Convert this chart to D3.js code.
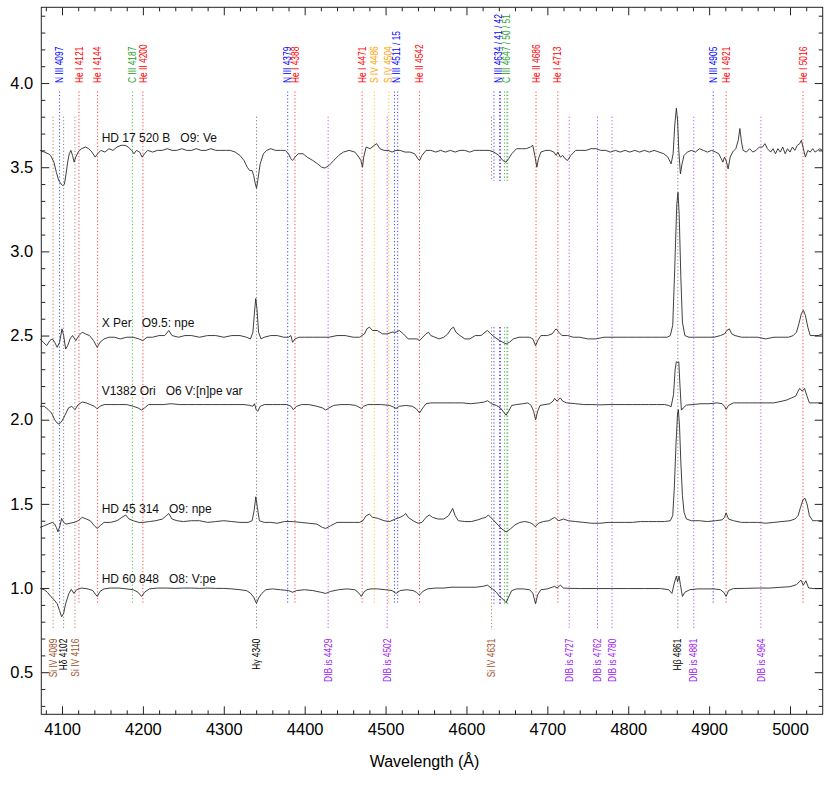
<!DOCTYPE html>
<html>
<head>
<meta charset="utf-8">
<script src="https://cdn.jsdelivr.net/npm/d3@7"></script>
<style>
body { margin: 0; background: #fff; }
svg { font-family: "Liberation Sans", Arial, Helvetica, sans-serif; }
</style>
</head>
<body>
<svg width="830" height="803"></svg>
<script>
// ---- data ----
// spectra: [wavelength (A), normalised flux + offset]
var hd17520 = [
  [4073,3.60],[4078,3.59],[4083,3.58],[4086,3.57],[4090,3.53],[4093,3.47],[4096,3.42],[4099,3.40],[4101,3.39],
  [4103,3.40],[4105,3.46],[4107,3.53],[4109,3.58],[4111,3.60],[4113,3.57],[4115,3.53],[4117,3.56],[4120,3.59],
  [4124,3.61],[4129,3.62],[4133,3.61],[4137,3.59],[4141,3.56],[4144,3.58],[4148,3.60],[4153,3.59],[4158,3.61],
  [4163,3.60],[4168,3.62],[4173,3.63],[4178,3.63],[4182,3.62],[4186,3.60],[4189,3.58],[4192,3.60],[4196,3.59],
  [4199,3.56],[4202,3.58],[4206,3.60],[4212,3.59],[4218,3.60],[4224,3.60],[4230,3.61],[4236,3.60],[4242,3.60],
  [4248,3.61],[4254,3.60],[4260,3.60],[4266,3.61],[4272,3.60],[4278,3.60],[4284,3.61],[4290,3.60],[4296,3.60],
  [4302,3.60],[4308,3.60],[4314,3.59],[4320,3.57],[4325,3.54],[4329,3.50],[4332,3.48],[4335,3.48],[4337,3.45],
  [4339,3.40],[4340.5,3.375],[4342,3.42],[4345,3.52],[4349,3.58],[4353,3.60],[4358,3.61],[4364,3.60],[4370,3.60],
  [4376,3.60],[4380,3.58],[4383,3.55],[4385,3.54],[4388,3.56],[4392,3.58],[4398,3.58],[4403,3.56],[4410,3.54],
  [4416,3.52],[4421,3.50],[4425,3.495],[4430,3.51],[4436,3.54],[4442,3.57],[4448,3.59],[4455,3.60],[4462,3.59],
  [4467,3.56],[4469.5,3.54],[4471.5,3.50],[4473,3.56],[4476,3.62],[4481,3.61],[4486,3.63],[4489,3.64],[4493,3.61],
  [4498,3.60],[4503,3.60],[4508,3.59],[4513,3.60],[4518,3.60],[4524,3.59],[4530,3.59],[4536,3.58],[4540,3.55],
  [4542,3.54],[4545,3.57],[4550,3.60],[4556,3.60],[4562,3.59],[4568,3.60],[4574,3.59],[4580,3.60],[4586,3.59],
  [4592,3.60],[4598,3.60],[4604,3.59],[4610,3.60],[4616,3.60],[4622,3.60],[4628,3.60],[4634,3.59],[4640,3.57],
  [4645,3.54],[4649,3.53],[4652,3.55],[4656,3.58],[4662,3.61],[4668,3.61],[4674,3.61],[4679,3.62],[4682,3.63],
  [4684.5,3.57],[4687,3.50],[4689,3.55],[4692,3.59],[4698,3.60],[4703,3.60],[4708,3.59],[4711,3.57],[4713,3.59],
  [4716,3.56],[4719,3.57],[4722,3.55],[4725,3.54],[4729,3.57],[4735,3.60],[4741,3.60],[4748,3.60],[4754,3.61],
  [4760,3.61],[4766,3.60],[4772,3.60],[4778,3.59],[4784,3.60],[4790,3.59],[4796,3.60],[4802,3.59],[4808,3.60],
  [4814,3.59],[4820,3.60],[4826,3.59],[4832,3.60],[4838,3.59],[4844,3.58],[4849,3.56],[4853,3.52],[4855.5,3.58],
  [4857.5,3.75],[4859.5,3.85],[4861,3.78],[4862.5,3.60],[4864.5,3.46],[4866.5,3.52],[4869,3.57],[4873,3.59],
  [4878,3.60],[4883,3.59],[4888,3.61],[4893,3.60],[4898,3.59],[4903,3.60],[4908,3.59],[4912,3.58],[4915,3.55],
  [4917,3.53],[4919,3.56],[4921,3.54],[4923.5,3.49],[4926,3.56],[4929,3.59],[4933,3.61],[4936,3.66],[4938,3.73],
  [4940,3.65],[4942,3.60],[4946,3.59],[4950,3.61],[4954,3.59],[4958,3.60],[4962,3.62],[4966,3.62],[4969,3.64],
  [4972,3.61],[4976,3.59],[4979,3.61],[4982,3.58],[4985,3.61],[4988,3.59],[4991,3.62],[4994,3.58],[4997,3.61],
  [5000,3.59],[5003,3.62],[5006,3.60],[5009,3.63],[5012,3.64],[5014,3.66],[5016,3.62],[5019,3.56],[5022,3.60],
  [5025,3.59],[5028,3.61],[5031,3.59],[5034,3.60],[5037,3.61],[5040,3.60]
];

var xPer = [
  [4073,2.48],[4077,2.46],[4081,2.44],[4085,2.47],[4088,2.48],[4091,2.46],[4094,2.43],[4097,2.46],[4100,2.54],
  [4102,2.50],[4104.5,2.42],[4107,2.44],[4110,2.48],[4113,2.50],[4117,2.47],[4121,2.50],[4125,2.52],[4129,2.51],
  [4134,2.50],[4139,2.47],[4143.5,2.43],[4147,2.46],[4152,2.48],[4158,2.49],[4165,2.49],[4172,2.48],[4180,2.49],
  [4188,2.49],[4195,2.48],[4200,2.47],[4205,2.49],[4212,2.49],[4220,2.50],[4227,2.50],[4232,2.53],[4236,2.50],
  [4244,2.49],[4252,2.50],[4260,2.50],[4270,2.49],[4280,2.50],[4290,2.50],[4300,2.49],[4310,2.50],[4320,2.50],
  [4328,2.49],[4333,2.48],[4336,2.52],[4338,2.64],[4339.5,2.72],[4341,2.66],[4343,2.52],[4346,2.48],[4350,2.49],
  [4358,2.50],[4366,2.50],[4374,2.49],[4380,2.49],[4383,2.50],[4385,2.46],[4388,2.48],[4393,2.49],[4400,2.49],
  [4410,2.49],[4420,2.49],[4430,2.49],[4440,2.50],[4450,2.50],[4460,2.49],[4468,2.49],[4474,2.51],[4477,2.54],
  [4480,2.55],[4484,2.53],[4490,2.53],[4496,2.51],[4502,2.51],[4508,2.52],[4513,2.52],[4517,2.53],[4522,2.51],
  [4528,2.48],[4534,2.48],[4539,2.48],[4542,2.47],[4546,2.49],[4550,2.51],[4553,2.52],[4556,2.50],[4561,2.49],
  [4566,2.48],[4572,2.49],[4577,2.51],[4581,2.54],[4584,2.55],[4587,2.52],[4592,2.50],[4598,2.48],[4604,2.48],
  [4611,2.50],[4618,2.50],[4623,2.52],[4626,2.53],[4630,2.51],[4635,2.49],[4641,2.47],[4645,2.46],[4649,2.45],
  [4653,2.46],[4658,2.48],[4665,2.49],[4672,2.49],[4678,2.49],[4682,2.48],[4685.5,2.44],[4688,2.47],[4692,2.50],
  [4700,2.50],[4706,2.51],[4709,2.53],[4711,2.54],[4714,2.52],[4718,2.50],[4725,2.50],[4732,2.49],[4740,2.49],
  [4750,2.48],[4760,2.48],[4770,2.49],[4780,2.49],[4790,2.49],[4800,2.49],[4810,2.49],[4820,2.49],[4830,2.49],
  [4840,2.49],[4848,2.49],[4852,2.50],[4855,2.56],[4857.5,2.90],[4860,3.28],[4861.5,3.35],[4863,3.22],[4865,2.85],
  [4867,2.58],[4870,2.50],[4875,2.49],[4882,2.49],[4890,2.49],[4898,2.49],[4906,2.49],[4914,2.50],[4919,2.51],
  [4922,2.53],[4925,2.54],[4928,2.51],[4932,2.50],[4940,2.49],[4950,2.49],[4960,2.49],[4970,2.48],[4980,2.49],
  [4990,2.49],[4998,2.49],[5004,2.50],[5008,2.52],[5011,2.57],[5014,2.63],[5016.5,2.65],[5019,2.62],[5022,2.55],
  [5025,2.50],[5030,2.50],[5035,2.50],[5040,2.51]
];

var v1382Ori = [
  [4073,2.08],[4078,2.08],[4083,2.06],[4087,2.04],[4091,2.00],[4094,1.98],[4096,1.975],[4099,1.985],[4102,2.01],
  [4105,2.04],[4108,2.07],[4112,2.08],[4116,2.06],[4120,2.09],[4125,2.105],[4130,2.10],[4135,2.09],[4140,2.08],
  [4143.5,2.065],[4147,2.08],[4152,2.09],[4160,2.09],[4170,2.09],[4180,2.09],[4188,2.08],[4194,2.07],[4198.5,2.057],
  [4202,2.07],[4207,2.09],[4215,2.09],[4225,2.09],[4235,2.095],[4245,2.09],[4255,2.09],[4265,2.09],[4275,2.09],
  [4285,2.09],[4295,2.09],[4305,2.09],[4315,2.09],[4325,2.09],[4332,2.085],[4336,2.08],[4338,2.095],[4340,2.06],
  [4342,2.05],[4345,2.08],[4350,2.09],[4360,2.09],[4370,2.09],[4378,2.09],[4383,2.08],[4386,2.06],[4390,2.08],
  [4396,2.09],[4405,2.09],[4415,2.08],[4422,2.07],[4426,2.057],[4430,2.07],[4436,2.085],[4445,2.09],[4455,2.09],
  [4463,2.085],[4467,2.075],[4470,2.067],[4473,2.08],[4478,2.09],[4485,2.09],[4495,2.09],[4505,2.085],[4510,2.075],
  [4513,2.067],[4517,2.08],[4525,2.085],[4533,2.08],[4538,2.065],[4542,2.04],[4546,2.07],[4550,2.095],[4556,2.10],
  [4565,2.10],[4575,2.10],[4585,2.10],[4595,2.10],[4605,2.095],[4615,2.10],[4622,2.105],[4626,2.113],[4631,2.095],
  [4637,2.085],[4642,2.07],[4646,2.045],[4649,2.027],[4652,2.05],[4656,2.085],[4662,2.09],[4670,2.095],[4676,2.10],
  [4680,2.085],[4683,2.05],[4685.5,2.00],[4688,2.05],[4691,2.085],[4697,2.09],[4703,2.095],[4707,2.11],[4709,2.127],
  [4712,2.11],[4716,2.13],[4719,2.11],[4724,2.10],[4735,2.095],[4745,2.09],[4755,2.09],[4765,2.088],[4775,2.09],
  [4785,2.09],[4795,2.09],[4805,2.09],[4815,2.09],[4825,2.09],[4835,2.09],[4845,2.09],[4850,2.085],[4853,2.077],
  [4856,2.15],[4858,2.30],[4859.5,2.344],[4861,2.34],[4862.5,2.344],[4864,2.20],[4865.7,2.057],[4868,2.07],
  [4872,2.087],[4880,2.09],[4890,2.095],[4900,2.095],[4910,2.10],[4916,2.095],[4919,2.08],[4921,2.061],[4924,2.085],
  [4930,2.10],[4940,2.10],[4950,2.10],[4960,2.10],[4970,2.10],[4980,2.10],[4990,2.11],[4996,2.117],[5002,2.13],
  [5007,2.14],[5010,2.17],[5012,2.186],[5015,2.17],[5018,2.186],[5021,2.14],[5024,2.10],[5030,2.10],[5040,2.10]
];

var hd45314 = [
  [4073,1.36],[4078,1.37],[4083,1.38],[4088,1.39],[4091,1.38],[4093,1.36],[4095,1.334],[4097.5,1.37],[4099.5,1.414],
  [4102,1.39],[4105,1.38],[4110,1.385],[4115,1.39],[4120,1.40],[4125,1.42],[4130,1.41],[4135,1.40],[4140,1.37],
  [4143.6,1.354],[4147,1.37],[4152,1.39],[4160,1.39],[4168,1.40],[4174,1.42],[4178.7,1.434],[4183,1.41],[4188,1.40],
  [4195,1.39],[4200,1.39],[4208,1.395],[4216,1.40],[4224,1.41],[4229,1.43],[4232,1.443],[4236,1.41],[4242,1.40],
  [4250,1.395],[4260,1.40],[4270,1.40],[4280,1.39],[4290,1.395],[4300,1.40],[4310,1.395],[4320,1.39],[4330,1.39],
  [4335,1.40],[4337.5,1.46],[4339.6,1.542],[4341.5,1.48],[4344,1.40],[4350,1.39],[4358,1.39],[4366,1.385],
  [4375,1.395],[4385,1.395],[4395,1.39],[4405,1.385],[4415,1.38],[4422,1.36],[4426,1.354],[4432,1.37],[4440,1.39],
  [4450,1.39],[4460,1.39],[4468,1.39],[4472,1.40],[4476,1.43],[4480,1.439],[4484,1.42],[4490,1.415],[4498,1.40],
  [4505,1.395],[4512,1.41],[4518,1.42],[4522,1.43],[4525,1.443],[4528,1.42],[4534,1.40],[4540,1.385],[4545,1.39],
  [4550,1.42],[4554,1.434],[4558,1.42],[4565,1.41],[4572,1.41],[4578,1.43],[4583,1.473],[4586,1.43],[4590,1.40],
  [4598,1.395],[4606,1.395],[4614,1.405],[4620,1.415],[4624,1.42],[4627,1.434],[4632,1.41],[4638,1.38],[4644,1.35],
  [4649,1.334],[4654,1.35],[4660,1.375],[4666,1.39],[4672,1.395],[4678,1.39],[4682,1.38],[4685,1.364],[4689,1.385],
  [4695,1.395],[4702,1.40],[4709,1.42],[4714,1.40],[4720,1.41],[4726,1.40],[4735,1.395],[4745,1.39],[4755,1.385],
  [4765,1.385],[4775,1.39],[4785,1.39],[4795,1.39],[4805,1.39],[4815,1.395],[4825,1.395],[4835,1.395],[4845,1.395],
  [4852,1.40],[4855,1.43],[4857,1.60],[4859,1.85],[4861,2.04],[4862,2.06],[4863.5,1.95],[4865,1.75],[4867,1.55],
  [4869,1.45],[4872,1.41],[4878,1.40],[4888,1.40],[4898,1.395],[4908,1.40],[4916,1.405],[4919,1.42],[4921,1.447],
  [4924,1.41],[4930,1.40],[4940,1.39],[4950,1.39],[4960,1.39],[4970,1.385],[4980,1.39],[4990,1.395],[5000,1.40],
  [5006,1.41],[5010,1.43],[5013,1.48],[5016,1.525],[5018.4,1.533],[5021,1.50],[5024,1.43],[5028,1.40],[5033,1.40],
  [5040,1.40]
];

var hd60848 = [
  [4073,0.998],[4078,0.99],[4082,0.975],[4086,0.95],[4090,0.932],[4094,0.907],[4097,0.867],[4099.5,0.829],
  [4102,0.85],[4104.5,0.907],[4108.5,0.968],[4111.5,0.992],[4114.7,0.968],[4118,0.99],[4124,1.00],[4132,0.995],
  [4138,0.985],[4141,0.965],[4143.6,0.95],[4147,0.98],[4152,0.995],[4160,1.00],[4170,1.00],[4180,0.995],[4188,0.99],
  [4194,0.975],[4198.5,0.95],[4202,0.975],[4208,0.995],[4218,1.00],[4230,1.00],[4240,0.998],[4250,1.00],[4260,1.00],
  [4270,0.998],[4280,1.00],[4290,0.998],[4300,0.998],[4310,0.995],[4320,0.99],[4328,0.985],[4333,0.97],[4337,0.945],
  [4340.4,0.909],[4343,0.94],[4347,0.968],[4352,0.99],[4360,0.995],[4370,0.99],[4380,0.985],[4385,0.975],[4390,0.985],
  [4400,0.99],[4410,0.985],[4420,0.975],[4426,0.968],[4432,0.98],[4442,0.99],[4452,0.995],[4462,0.99],[4467,0.97],
  [4470,0.95],[4473,0.975],[4477,0.99],[4482,0.995],[4490,0.995],[4500,0.99],[4508,0.985],[4513,0.968],[4518,0.985],
  [4526,0.99],[4534,0.985],[4538,0.975],[4542,0.958],[4546,0.98],[4552,0.995],[4562,1.00],[4572,1.00],[4582,1.005],
  [4592,1.005],[4602,1.005],[4612,1.005],[4620,1.01],[4626,1.017],[4632,0.995],[4637,0.975],[4641,0.95],[4645,0.935],
  [4649,0.913],[4652,0.945],[4656,0.985],[4662,0.995],[4670,0.995],[4678,0.99],[4682,0.97],[4685.4,0.907],[4688,0.96],
  [4692,0.99],[4700,0.995],[4706,1.005],[4709,1.01],[4712,1.00],[4716,1.017],[4720,1.00],[4728,0.998],[4740,0.997],
  [4760,0.997],[4780,0.997],[4800,0.997],[4820,0.997],[4840,0.997],[4850,0.99],[4854,0.968],[4857,1.03],
  [4859.5,1.071],[4861,1.037],[4862.8,1.071],[4864.5,1.02],[4867,0.95],[4870,0.975],[4876,0.99],[4886,0.995],
  [4896,0.995],[4906,0.995],[4914,0.99],[4918,0.975],[4921,0.95],[4924,0.985],[4930,0.997],[4945,0.998],[4960,1.00],
  [4975,1.00],[4990,1.005],[5000,1.008],[5008,1.02],[5013.5,1.047],[5016.5,1.017],[5019.6,1.043],[5023,1.00],
  [5030,0.997],[5040,0.997]
];

var spectra = [hd17520, xPer, v1382Ori, hd45314, hd60848];
var starNames = ['HD 17 520 B', 'X Per', 'V1382 Ori', 'HD 45 314', 'HD 60 848'];
var starTypes = ['O9: Ve', 'O9.5: npe', 'O6 V:[n]pe var', 'O9: npe', 'O8: V:pe'];

// line identifications written above the spectra
var topLabels = ['N III 4097', 'He I 4121', 'He I 4144', 'C III 4187', 'He II 4200', 'N III 4379', 'He I 4388',
  'He I 4471', 'S IV 4486', 'S IV 4504', 'N III 4511 / 15', 'He II 4542', 'N III 4634 / 41 / 42',
  'C III 4647 / 50 / 51', 'He II 4686', 'He I 4713', 'N III 4905', 'He I 4921', 'He I 5016'];
var topLineWaves = [[4097], [4121], [4144], [4187], [4200], [4379], [4388], [4471], [4486], [4504],
  [4511, 4515], [4542], [4634, 4641, 4642], [4647, 4650, 4651], [4686], [4713], [4905], [4921], [5016]];

// identifications written below the spectra
var bottomLabels = ['Si IV 4089', 'H\u03b4 4102', 'Si IV 4116', 'H\u03b3 4340', 'DIB is 4429', 'DIB is 4502',
  'Si IV 4631', 'DIB is 4727', 'DIB is 4762', 'DIB is 4780', 'H\u03b2 4861', 'DIB is 4881', 'DIB is 4964'];
var bottomLineWaves = [4089, 4102, 4116, 4340.5, 4429, 4502, 4631, 4727, 4762, 4780, 4861.3, 4881, 4964];

var xTicks = [4100, 4200, 4300, 4400, 4500, 4600, 4700, 4800, 4900, 5000];
var yTicks = [0.5, 1.0, 1.5, 2.0, 2.5, 3.0, 3.5, 4.0];

// ---- layout ----
var svg = d3.select('svg');
var plot = {l: 41.3, r: 822.7, t: 7.3, b: 714.3};

var xScale = d3.scaleLinear().domain([4074.4, 5040.4]).range([plot.l, plot.r]);
var yScale = d3.scaleLinear().domain([0.25, 4.45]).range([plot.b, plot.t]);

// colour by species
function speciesColor(label) {
    if (label.indexOf('Si IV') === 0) return '#a0522d';
    if (label.indexOf('S IV') === 0) return '#ffa500';
    if (label.indexOf('N III') === 0) return '#0000ff';
    if (label.indexOf('C III') === 0) return '#1fa01f';
    if (label.indexOf('He') === 0) return '#ff0000';
    if (label.indexOf('DIB') === 0) return '#a020f0';
    return '#000000';
}

// marker extents in data units
var topMarkRange = [3.95, 0.90];
var bottomMarkRange = [3.80, 0.75];
// the blended N III / C III / Si IV group leaves a gap between the top two spectra
function markSegments(wave, range) {
    if (wave > 4625 && wave < 4655) return [[range[0], 3.42], [2.55, range[1]]];
    return [range];
}

var markG = svg.append('g');

topLabels.forEach(function(lab, i) {
    topLineWaves[i].forEach(function(w) {
        markSegments(w, topMarkRange).forEach(function(seg) {
            markG.append('line')
                .attr('x1', xScale(w)).attr('x2', xScale(w))
                .attr('y1', yScale(seg[0])).attr('y2', yScale(seg[1]))
                .attr('stroke', speciesColor(lab))
                .attr('stroke-opacity', 0.75)
                .attr('stroke-width', 1)
                .attr('stroke-dasharray', '1.2,2.2');
        });
    });
});

bottomLabels.forEach(function(lab, i) {
    var w = bottomLineWaves[i];
    markSegments(w, bottomMarkRange).forEach(function(seg) {
        markG.append('line')
            .attr('x1', xScale(w)).attr('x2', xScale(w))
            .attr('y1', yScale(seg[0])).attr('y2', yScale(seg[1]))
            .attr('stroke', lab.charAt(0) === 'H' ? '#555' : speciesColor(lab))
            .attr('stroke-opacity', 0.75)
            .attr('stroke-width', 1)
            .attr('stroke-dasharray', '1.2,2.2');
    });
});

// spectra
var lineGen = d3.line()
    .x(function(d) { return xScale(d[0]); })
    .y(function(d) { return yScale(d[1]); });

svg.append('g').selectAll('path')
    .data(spectra)
    .enter()
    .append('path')
    .attr('d', lineGen)
    .attr('fill', 'none')
    .attr('stroke', '#2a2a2a')
    .attr('stroke-width', 0.9)
    .attr('stroke-linejoin', 'round');

// star names
var starLabelLevels = [3.65, 2.55, 2.146, 1.447, 1.03];
svg.append('g').selectAll('text')
    .data(starNames)
    .enter()
    .append('text')
    .attr('x', xScale(4149))
    .attr('y', function(d, i) { return yScale(starLabelLevels[i]); })
    .attr('font-size', 12)
    .attr('fill', '#111')
    .text(function(d, i) { return d + '\u00a0\u00a0\u00a0' + starTypes[i]; });

// rotated identification labels
var topLabelWaves = topLineWaves.map(function(ws) { return d3.mean(ws); });
svg.append('g').selectAll('text')
    .data(topLabels)
    .enter()
    .append('text')
    .attr('transform', function(d, i) {
        return 'translate(' + xScale(topLabelWaves[i]) + ',' + yScale(4.0) + ') rotate(-90) scale(0.84,1)';
    })
    .attr('dy', '0.36em')
    .attr('font-size', 10)
    .attr('text-anchor', 'start')
    .attr('fill', function(d) { return speciesColor(d); })
    .text(function(d) { return d; });

svg.append('g').selectAll('text')
    .data(bottomLabels)
    .enter()
    .append('text')
    .attr('transform', function(d, i) {
        return 'translate(' + xScale(bottomLineWaves[i]) + ',' + yScale(0.7) + ') rotate(-90) scale(0.84,1)';
    })
    .attr('dy', '0.36em')
    .attr('font-size', 10)
    .attr('text-anchor', 'end')
    .attr('fill', function(d) { return speciesColor(d); })
    .text(function(d) { return d; });

// ---- axes ----
var xMinor = d3.range(4080, 5040, 20).filter(function(v) { return v % 100 !== 0; });
var yMinor = d3.range(3, 45).map(function(v) { return v / 10; }).filter(function(v) { return Math.round(v * 10) % 5 !== 0; });

function tidy(g) {
    g.select('.domain').remove();
    g.selectAll('line').attr('stroke', '#222');
    g.selectAll('text').attr('font-size', 16.5).attr('fill', '#000')
        .attr('font-family', '"Liberation Sans", Arial, Helvetica, sans-serif');
}

svg.append('g').attr('transform', 'translate(0,' + plot.b + ')')
    .call(d3.axisBottom(xScale).tickValues(xTicks).tickSizeInner(-8).tickSizeOuter(0).tickPadding(9).tickFormat(d3.format('d')))
    .call(tidy);
svg.append('g').attr('transform', 'translate(0,' + plot.b + ')')
    .call(d3.axisBottom(xScale).tickValues(xMinor).tickSize(-4).tickFormat(''))
    .call(tidy);
svg.append('g').attr('transform', 'translate(0,' + plot.t + ')')
    .call(d3.axisTop(xScale).tickValues(xTicks).tickSize(-8).tickFormat(''))
    .call(tidy);
svg.append('g').attr('transform', 'translate(0,' + plot.t + ')')
    .call(d3.axisTop(xScale).tickValues(xMinor).tickSize(-4).tickFormat(''))
    .call(tidy);

svg.append('g').attr('transform', 'translate(' + plot.l + ',0)')
    .call(d3.axisLeft(yScale).tickValues(yTicks).tickSizeInner(-8).tickSizeOuter(0).tickPadding(8).tickFormat(d3.format('.1f')))
    .call(tidy);
svg.append('g').attr('transform', 'translate(' + plot.l + ',0)')
    .call(d3.axisLeft(yScale).tickValues(yMinor).tickSize(-4).tickFormat(''))
    .call(tidy);
svg.append('g').attr('transform', 'translate(' + plot.r + ',0)')
    .call(d3.axisRight(yScale).tickValues(yTicks).tickSize(-8).tickFormat(''))
    .call(tidy);
svg.append('g').attr('transform', 'translate(' + plot.r + ',0)')
    .call(d3.axisRight(yScale).tickValues(yMinor).tickSize(-4).tickFormat(''))
    .call(tidy);

// frame
svg.append('rect')
    .attr('x', plot.l).attr('y', plot.t)
    .attr('width', plot.r - plot.l).attr('height', plot.b - plot.t)
    .attr('fill', 'none').attr('stroke', '#222').attr('stroke-width', 1);

svg.append('text')
    .attr('x', 424.5)
    .attr('y', 767)
    .attr('text-anchor', 'middle')
    .attr('font-size', 16)
    .attr('fill', '#000')
    .text('Wavelength (\u00c5)');
</script>
</body>
</html>
